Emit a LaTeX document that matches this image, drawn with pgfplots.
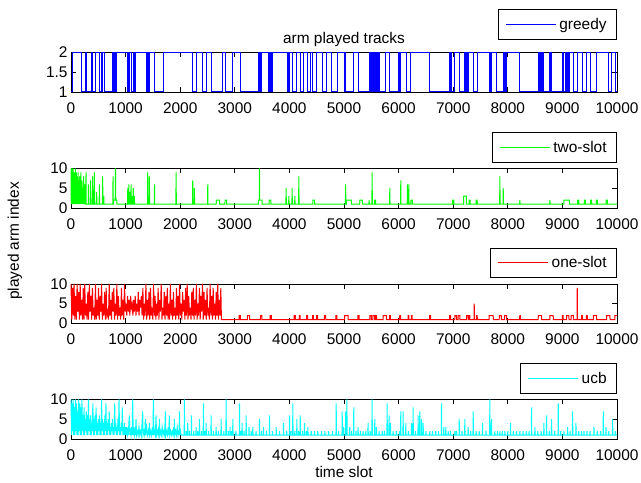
\documentclass[border=0pt]{standalone}
\usepackage{fontspec}
\setmainfont{Liberation Sans}
\usepackage{pgfplots}
\pgfplotsset{compat=1.18}

\definecolor{mblue}{RGB}{0,0,255}
\definecolor{mgreen}{RGB}{0,255,0}
\definecolor{mred}{RGB}{255,0,0}
\definecolor{mcyan}{RGB}{0,255,255}

\newcommand{\lblfont}{\fontsize{15.5}{18}\selectfont}

\pgfplotsset{
  track/.style={
    scale only axis, width=546bp, height=39.5bp,
    xmin=0, xmax=10000, xtick={0,1000,...,10000},
    scaled x ticks=false, scaled y ticks=false,
    /pgf/number format/1000 sep={},
    /pgf/number format/assume math mode=true,
    tick align=inside, xtick pos=both, ytick pos=both,
    major tick length=5bp,
    axis line style={line width=0.8bp, black},
    every tick/.style={black, line width=0.8bp},
    tick label style={font=\lblfont},
    xticklabel style={yshift=-7bp},
    clip=false,
    legend style={at={(1,1)}, anchor=south east, yshift=6bp,
      draw=black, line width=0.8bp, font=\lblfont,
      inner xsep=7bp, inner ysep=5.5bp,
      nodes={inner sep=3bp}},
    legend image code/.code={\draw[#1] (0bp,0bp) -- (50bp,0bp);},
    every axis plot/.append style={line width=1bp},
  }
}

\begin{document}
\begin{tikzpicture}
\useasboundingbox (0,0) rectangle (641bp,483bp);

\node[rotate=90, font=\lblfont] at (15bp,242bp) {played arm index};

% greedy
\begin{axis}[track, at={(71bp,391bp)}, anchor=south west,
  ymin=1, ymax=2, ytick={1,1.5,2},
  legend style={yshift=7bp},
  title={arm played tracks},
  title style={font=\lblfont, at={(0.5,1)}, anchor=south, yshift=-4bp}]
\addplot[mblue, const plot] coordinates {
(0,1)(30,2)(201,1)(263,2)(287,1)(367,2)(397,1)(446,2)(519,1)(550,2)(558,1)(566,2)(574,1)(580,2)(611,1)
(752,2)(760,1)(770,2)(778,1)(790,2)(800,1)(810,2)(818,1)(825,2)(1039,1)(1050,2)(1060,1)(1070,2)(1100,1)
(1143,2)(1152,1)(1160,2)(1170,1)(1180,2)(1387,1)(1395,2)(1405,1)(1415,2)(1424,1)(1436,2)(1528,1)(1699,2)
(2231,1)(2292,2)(2401,1)(2475,2)(2566,1)(2768,2)(2829,1)(2964,2)(3104,1)(3428,2)(3436,1)(3444,2)(3452,1)
(3462,2)(3472,1)(3483,2)(3623,1)(3632,2)(3642,1)(3652,2)(3662,1)(3672,2)(3684,1)(3697,2)(3972,1)(3980,2)
(3990,1)(4002,2)(4063,1)(4137,2)(4198,1)(4265,2)(4326,1)(4381,2)(4430,1)(4491,2)(4614,1)(4675,2)(4766,1)
(4876,2)(5000,1)(5008,2)(5016,1)(5024,2)(5032,1)(5166,2)(5258,1)(5472,2)(5490,1)(5500,2)(5510,1)(5520,2)
(5530,1)(5540,2)(5550,1)(5560,2)(5570,1)(5580,2)(5590,1)(5600,2)(5612,1)(5625,2)(5655,1)(5765,2)(5839,1)
(5991,2)(6000,1)(6010,2)(6020,1)(6034,2)(6144,1)(6223,2)(6572,1)(6926,2)(6940,1)(6955,2)(6969,1)(7030,2)
(7122,1)(7213,2)(7225,1)(7240,2)(7255,1)(7274,2)(7366,1)(7439,2)(7659,1)(7670,2)(7685,1)(7702,2)(7794,1)
(7916,2)(7925,1)(7935,2)(7945,1)(7955,2)(7965,1)(7977,2)(8209,1)(8570,2)(8585,1)(8600,2)(8615,1)(8632,2)
(8649,1)(8771,2)(8785,1)(8797,2)(8808,1)(9003,2)(9028,1)(9050,2)(9075,1)(9100,2)(9120,1)(9138,2)(9199,1)
(9272,2)(9370,1)(9443,2)(9517,1)(9627,2)(9841,1)(9902,2)(9981,1)(10000,1)};
\addlegendentry{greedy}
\end{axis}

% two-slot
\begin{axis}[track, at={(71bp,275bp)}, anchor=south west,
  ymin=0, ymax=10, ytick={0,5,10}]
\addplot[mgreen] coordinates {
(0,10)(5,1)(10,9)(15,1)(20,10)(25,2)(30,8)(35,1)(40,10)(45,1)(50,7)(55,1)(60,9)(65,3)(70,8)(75,1)(80,10)
(85,1)(90,6)(95,1)(100,9)(105,2)(110,8)(115,1)(120,5)(125,1)(130,9)(135,1)(140,7)(145,1)(150,4)(155,1)
(160,8)(165,1)(170,6)(175,1)(180,9)(185,1)(190,3)(195,1)(200,7)(205,1)(212,5)(218,1)(232,8)(238,1)(256,6)(262,1)
(272,1)(275,9)(278,1)(316,1)(320,6)(324,1)(356,1)(360,7)(364,1)(393,1)(397,8)(401,1)(424,1)(428,9)(432,1)
(466,1)(470,4)(474,1)(516,1)(520,6)(524,1)(576,1)(580,8)(584,1)(596,1)(600,3)(604,1)(766,1)(770,8)(774,1)
(780,1)(781,2)(810,2)(815,10)(820,2)(840,2)(841,1)
(1036,1)(1040,5)(1044,1)(1056,1)(1060,6)(1064,1)(1076,1)(1080,4)(1084,1)(1096,1)(1100,6)(1104,1)(1116,1)
(1120,3)(1124,1)(1136,1)(1140,5)(1144,1)(1156,1)(1160,3)(1164,1)
(1401,1)(1405,9)(1409,1)(1432,1)(1436,8)(1440,1)(1526,1)(1530,6)(1534,1)(1921,1)(1925,9)(1929,1)(2226,1)
(2230,7)(2234,1)(2256,1)(2260,5)(2264,1)(2501,1)(2505,6)(2509,1)
(2660,1)(2661,2)(2720,2)(2721,1)(2820,1)(2821,2)(2850,2)(2851,1)
(3430,1)(3431,2)(3448,2)(3452,10)(3456,2)(3500,2)(3501,1)(3630,1)(3631,2)(3660,2)(3661,1)
(3936,1)(3940,5)(3944,1)(3986,1)(3990,3)(3994,1)(4046,1)(4050,5)(4054,1)(4096,1)(4100,3)(4104,1)(4169,1)
(4173,8)(4177,1)(4430,1)(4431,2)(4460,2)(4461,1)
(5026,1)(5030,6)(5034,1)(5045,1)(5046,2)(5136,2)(5137,1)(5288,1)(5289,2)(5338,2)(5339,1)
(5456,1)(5460,2)(5464,1)(5511,1)(5515,9)(5519,1)(5560,1)(5561,2)(5580,2)(5581,1)
(5835,1)(5839,5)(5843,1)(6036,1)(6040,7)(6044,1)(6158,1)(6162,6)(6166,1)(6183,1)(6187,6)(6191,1)(6226,1)
(6227,2)(6250,2)(6251,1)
(6990,1)(6991,2)(7010,2)(7011,1)(7190,1)(7191,3)(7240,3)(7241,1)(7290,1)(7291,2)(7310,2)(7311,1)(7420,1)
(7421,2)(7440,2)(7441,1)
(7851,1)(7855,8)(7859,1)(7912,1)(7916,5)(7920,1)(8217,1)(8221,2)(8225,1)(8767,1)(8771,2)(8775,1)
(9028,1)(9029,2)(9126,2)(9127,1)(9280,1)(9281,2)(9300,2)(9301,1)(9400,1)(9401,2)(9420,2)(9421,1)(9515,1)
(9516,2)(9535,2)(9536,1)(9620,1)(9621,2)(9640,2)(9641,1)(9800,1)(9801,2)(9825,2)(9826,1)(10000,1)};
\addlegendentry{two-slot}
\end{axis}

% one-slot
\begin{axis}[track, at={(71bp,159.5bp)}, anchor=south west,
  ymin=0, ymax=10, ytick={0,5,10}]
\addplot[mred] coordinates {
(0,10)(14,1)(28,9)(42,2)(56,10)(70,1)(84,7)(98,1)(112,10)(126,3)(140,8)(154,1)(168,10)(182,2)(196,6)
(210,1)(224,9)(238,1)(252,10)(266,2)(280,5)(294,1)(308,8)(322,1)(336,10)(350,3)(364,7)(378,1)(392,9)
(406,2)(420,4)(434,1)(448,10)(462,1)(476,6)(490,2)(504,9)(518,1)(532,7)(546,3)(560,10)(574,1)(588,5)
(602,2)(616,8)(630,1)(644,9)(658,2)(672,3)(686,1)(700,10)(714,2)(728,6)(742,1)(756,8)(770,3)(784,9)
(798,1)(812,5)(826,2)(840,10)(854,1)(868,7)(882,2)(896,4)(910,1)(924,9)(938,2)(952,6)(966,1)(980,10)
(994,3)(1008,5)(1022,2)(1036,7)(1050,3)(1064,6)(1078,2)(1092,7)(1106,4)(1120,5)(1134,2)(1148,6)(1162,3)
(1176,7)(1190,2)(1204,5)(1218,3)(1232,8)(1246,2)(1260,6)(1274,4)(1288,7)(1302,2)(1316,9)(1330,1)(1344,5)
(1358,2)(1372,10)(1386,1)(1400,6)(1414,2)(1428,8)(1442,1)(1456,9)(1470,2)(1484,4)(1498,1)(1512,10)
(1526,2)(1540,7)(1554,1)(1568,5)(1582,2)(1596,9)(1610,1)(1624,6)(1638,3)(1652,10)(1666,1)(1680,4)
(1694,2)(1708,8)(1722,1)(1736,7)(1750,2)(1764,9)(1778,1)(1792,5)(1806,1)(1820,10)(1834,2)(1848,6)
(1862,1)(1876,8)(1890,2)(1904,4)(1918,1)(1932,9)(1946,2)(1960,7)(1974,1)(1988,10)(2002,2)(2016,5)
(2030,1)(2044,8)(2058,3)(2072,6)(2086,1)(2100,9)(2114,2)(2128,10)(2142,1)(2156,7)(2170,2)(2184,4)
(2198,1)(2212,8)(2226,2)(2240,9)(2254,1)(2268,6)(2282,2)(2296,10)(2310,1)(2324,5)(2338,2)(2352,9)
(2366,1)(2380,7)(2394,3)(2408,10)(2422,1)(2436,8)(2450,2)(2464,6)(2478,1)(2492,9)(2506,2)(2520,4)
(2534,1)(2548,10)(2562,2)(2576,7)(2590,1)(2604,9)(2618,2)(2632,5)(2646,1)(2660,8)(2674,2)(2688,10)
(2702,1)(2716,6)(2730,2)(2744,9)
(2755,1)(3080,1)(3081,2)(3100,2)(3101,1)(3230,1)(3231,2)(3270,2)(3271,1)(3470,1)(3471,2)(3495,2)(3496,1)
(3645,1)(3646,2)(3670,2)(3671,1)(4085,1)(4086,2)(4110,2)(4111,1)(4180,1)(4181,2)(4195,2)(4196,1)(4315,1)
(4316,2)(4335,2)(4336,1)(4425,1)(4426,2)(4440,2)(4441,1)(4498,1)(4499,2)(4515,2)(4516,1)(4640,1)(4641,2)
(4665,2)(4666,1)(4850,1)(4851,2)(4870,2)(4871,1)(5010,1)(5011,2)(5075,2)(5076,1)(5255,1)(5256,2)(5275,2)
(5276,1)(5472,1)(5473,2)(5500,2)(5501,1)(5530,1)(5531,2)(5560,2)(5561,1)(5575,1)(5576,2)(5595,2)(5596,1)
(5716,1)(5717,2)(5777,2)(5778,1)(5836,1)(5837,2)(5850,2)(5851,1)(6020,1)(6021,2)(6035,2)(6036,1)(6172,1)
(6173,2)(6188,2)(6189,1)(6232,1)(6233,2)(6248,2)(6249,1)(6568,1)(6569,2)(6585,2)(6586,1)(6935,1)(6936,2)
(6952,2)(6953,1)(7030,1)(7031,2)(7060,2)(7061,1)(7090,1)(7091,2)(7122,2)(7123,1)(7244,1)(7245,2)(7275,2)
(7276,1)(7290,1)(7291,2)(7305,2)(7306,1)(7381,1)(7385,5)(7389,1)(7425,1)(7426,2)(7440,2)(7441,1)(7659,1)
(7660,2)(7733,2)(7734,1)(7843,1)(7844,2)(7880,2)(7881,1)(7940,1)(7941,2)(7977,2)(7978,1)(8218,1)(8219,2)
(8230,2)(8231,1)(8557,1)(8558,2)(8618,2)(8619,1)(8771,1)(8772,2)(8832,2)(8833,1)(9000,1)(9001,2)(9012,2)
(9013,1)(9077,1)(9078,2)(9120,2)(9121,1)(9160,1)(9161,2)(9199,2)(9200,1)(9268,1)(9272,9)(9276,1)(9350,1)
(9351,2)(9365,2)(9366,1)(9440,1)(9441,2)(9455,2)(9456,1)(9566,1)(9567,2)(9627,2)(9628,1)(9810,1)(9811,2)
(9871,2)(9872,1)(9960,1)(9961,2)(10000,2)};
\addlegendentry{one-slot}
\end{axis}

% ucb
\begin{axis}[track, at={(71bp,44bp)}, anchor=south west,
  ymin=0, ymax=10, ytick={0,5,10},
  xlabel={time slot}, xlabel style={font=\lblfont, yshift=1bp}]
\addplot[mcyan] coordinates {
(0,10)(10,1)(20,9)(30,2)(40,10)(50,1)(60,8)(70,1)(80,10)(90,2)(100,9)(110,1)(120,7)(130,1)(140,10)(150,2)
(160,9)(170,1)(180,8)(190,1)(200,10)(210,2)(220,6)(230,1)(240,8)(250,1)(260,5)(270,2)(280,7)(290,1)(300,6)
(310,1)(320,10)(330,2)(340,5)(350,1)(360,6)(370,1)(380,4)(390,2)(400,9)(410,1)(420,5)(430,1)(440,6)(450,2)
(460,8)(470,1)(480,4)(490,1)(500,5)(510,2)(520,6)(530,1)(540,4)(550,1)(560,10)(570,2)(580,5)(590,1)(600,4)
(610,1)(620,6)(630,2)(640,9)(650,1)(660,4)(670,1)(680,5)(690,2)(700,7)(710,1)(720,3)(730,1)(740,4)(750,2)
(760,5)(770,1)(780,3)(790,1)(800,9)(810,2)(820,4)(830,1)(840,3)(850,1)(860,5)(870,2)(880,10)(890,1)(900,3)
(910,1)(920,4)(930,2)(940,8)(950,1)(960,3)(970,1)(980,4)(990,1)(1000,3)
(1010,1)(1020,3)(1030,1)(1040,2)(1050,1)(1060,4)(1069,6)(1078,1)(1090,2)(1100,1)(1110,3)(1120,1)(1130,10)
(1140,1)(1150,2)(1160,1)(1170,3)(1180,1)(1191,5)(1200,1)(1215,2)(1230,1)(1245,3)(1260,1)(1275,2)(1290,1)
(1313,7)(1320,1)(1335,2)(1350,1)(1362,5)(1370,1)(1385,3)(1400,1)(1415,2)(1425,1)(1436,4)(1445,1)(1460,2)
(1475,1)(1490,3)(1500,1)(1509,10)(1518,1)(1530,2)(1545,1)(1558,6)(1565,1)(1580,2)(1595,1)(1605,3)(1612,1)
(1619,5)(1626,1)(1640,2)(1655,1)(1670,3)(1685,1)(1700,2)(1715,1)(1729,7)(1736,1)(1750,2)(1765,1)(1780,3)
(1790,1)(1802,6)(1810,1)(1825,2)(1840,1)(1855,2)(1870,1)(1882,3)(1888,1)(1894,5)(1900,1)(1915,2)(1930,1)
(1945,3)(1960,1)(1975,2)(1980,1)(1986,7)(1992,1)(2005,2)(2015,1)
(2073,1)(2077,10)(2081,1)(2106,1)(2110,2)(2114,1)(2134,1)(2138,4)(2142,1)(2166,1)(2170,2)(2174,1)
(2202,1)(2206,6)(2210,1)(2246,1)(2250,2)(2254,1)(2287,1)(2291,3)(2295,1)(2316,1)(2320,2)(2324,1)
(2348,1)(2352,5)(2356,1)(2386,1)(2390,2)(2394,1)(2421,1)(2425,9)(2429,1)(2446,1)(2450,2)(2454,1)
(2471,1)(2475,4)(2479,1)(2516,1)(2520,2)(2524,1)(2562,1)(2566,6)(2570,1)(2606,1)(2610,2)(2614,1)
(2654,1)(2658,3)(2662,1)(2696,1)(2700,2)(2704,1)(2746,1)(2750,5)(2754,1)(2796,1)(2800,2)(2804,1)
(2837,1)(2841,10)(2845,1)(2876,1)(2880,2)(2884,1)(2910,1)(2914,3)(2918,1)(2936,1)(2940,2)(2944,1)
(2960,1)(2964,5)(2968,1)(3016,1)(3020,2)(3024,1)(3082,1)(3086,9)(3090,1)(3106,1)(3110,2)(3114,1)
(3130,1)(3134,4)(3138,1)(3166,1)(3170,2)(3174,1)(3204,1)(3208,6)(3212,1)(3256,1)(3260,3)(3264,1)
(3296,1)(3300,2)(3304,1)(3326,1)(3330,3)(3334,1)(3386,1)(3390,2)(3394,1)(3448,1)(3452,5)(3456,1)
(3486,1)(3490,2)(3494,1)(3521,1)(3525,3)(3529,1)(3576,1)(3580,2)(3584,1)(3631,1)(3635,6)(3639,1)
(3686,1)(3690,2)(3694,1)(3754,1)(3758,3)(3762,1)(3816,1)(3820,2)(3824,1)(3888,1)(3892,4)(3896,1)
(3946,1)(3950,2)(3954,1)(3998,1)(4002,6)(4006,1)(4026,1)(4030,2)(4034,1)(4059,1)(4063,9)(4067,1)
(4096,1)(4100,2)(4104,1)(4133,1)(4137,5)(4141,1)(4166,1)(4170,2)(4174,1)(4194,1)(4198,6)(4202,1)
(4236,1)(4240,2)(4244,1)(4273,1)(4277,4)(4281,1)(4306,1)(4310,2)(4314,1)(4334,1)(4338,3)(4342,1)
(4396,1)(4400,2)(4404,1)(4456,1)(4460,2)(4464,1)(4516,1)(4520,2)(4524,1)(4586,1)(4590,2)(4594,1)
(4646,1)(4650,2)(4654,1)(4716,1)(4720,2)(4724,1)(4786,1)(4790,2)(4794,1)(4853,1)(4857,9)(4861,1)
(4896,1)(4900,2)(4904,1)(4963,1)(4967,7)(4971,1)(4991,1)(4995,3)(4999,1)(5028,1)(5032,7)(5036,1)
(5049,1)(5053,10)(5057,1)(5101,1)(5105,3)(5109,1)(5136,1)(5140,2)(5144,1)(5175,1)(5179,8)(5183,1)
(5216,1)(5220,2)(5224,1)(5254,1)(5258,3)(5262,1)(5296,1)(5300,2)(5304,1)(5346,1)(5350,2)(5354,1)
(5396,1)(5400,2)(5404,1)(5437,1)(5441,4)(5445,1)(5476,1)(5480,2)(5484,1)(5511,1)(5515,10)(5519,1)
(5560,1)(5564,5)(5568,1)(5590,1)(5594,3)(5598,1)(5639,1)(5643,2)(5647,1)(5696,1)(5700,2)(5704,1)
(5736,1)(5740,2)(5744,1)(5786,1)(5790,9)(5794,1)(5822,1)(5826,6)(5830,1)(5847,1)(5851,4)(5855,1)
(5896,1)(5900,2)(5904,1)(5956,1)(5960,2)(5964,1)(6018,1)(6022,2)(6026,1)(6036,1)(6040,7)(6044,1)
(6079,1)(6083,7)(6087,1)(6128,1)(6132,4)(6136,1)(6176,1)(6180,2)(6184,1)(6232,1)(6236,4)(6240,1)
(6262,1)(6266,8)(6270,1)(6306,1)(6310,2)(6314,1)(6354,1)(6358,6)(6362,1)(6384,1)(6388,7)(6392,1)
(6415,1)(6419,5)(6423,1)(6446,1)(6450,4)(6454,1)(6496,1)(6500,2)(6504,1)(6568,1)(6572,2)(6576,1)
(6616,1)(6620,2)(6624,1)(6676,1)(6680,2)(6684,1)(6726,1)(6730,2)(6734,1)(6782,1)(6786,9)(6790,1)
(6824,1)(6828,3)(6832,1)(6861,1)(6865,3)(6869,1)(6904,1)(6908,2)(6912,1)(6946,1)(6950,2)(6954,1)
(7026,1)(7030,2)(7034,1)(7056,1)(7060,2)(7064,1)(7106,1)(7110,5)(7114,1)(7156,1)(7160,2)(7164,1)
(7209,1)(7213,5)(7217,1)(7270,1)(7274,3)(7278,1)(7316,1)(7320,2)(7324,1)(7362,1)(7366,7)(7370,1)
(7416,1)(7420,2)(7424,1)(7472,1)(7476,2)(7480,1)(7533,1)(7537,4)(7541,1)(7596,1)(7600,2)(7604,1)
(7667,1)(7671,10)(7675,1)(7698,1)(7702,5)(7706,1)(7759,1)(7763,2)(7767,1)(7806,1)(7810,2)(7814,1)
(7851,1)(7855,2)(7859,1)(7896,1)(7900,2)(7904,1)(7943,1)(7947,2)(7951,1)(7996,1)(8000,2)(8004,1)
(8046,1)(8050,4)(8054,1)(8096,1)(8100,2)(8104,1)(8156,1)(8160,2)(8164,1)(8217,1)(8221,2)(8225,1)
(8276,1)(8280,2)(8284,1)(8336,1)(8340,2)(8344,1)(8386,1)(8390,2)(8394,1)(8431,1)(8435,8)(8439,1)
(8492,1)(8496,3)(8500,1)(8546,1)(8550,2)(8554,1)(8606,1)(8610,2)(8614,1)(8657,1)(8661,4)(8665,1)
(8706,1)(8710,6)(8714,1)(8756,1)(8760,2)(8764,1)(8798,1)(8802,5)(8806,1)(8856,1)(8860,2)(8864,1)
(8920,1)(8924,9)(8928,1)(8966,1)(8970,2)(8974,1)(9024,1)(9028,2)(9032,1)(9091,1)(9095,3)(9099,1)
(9136,1)(9140,2)(9144,1)(9183,1)(9187,7)(9191,1)(9244,1)(9248,4)(9252,1)(9296,1)(9300,2)(9304,1)
(9346,1)(9350,2)(9354,1)(9391,1)(9395,2)(9399,1)(9446,1)(9450,2)(9454,1)(9501,1)(9505,2)(9509,1)
(9574,1)(9578,3)(9582,1)(9635,1)(9639,2)(9643,1)(9696,1)(9700,2)(9704,1)(9745,1)(9749,7)(9753,1)
(9794,1)(9798,3)(9802,1)(9846,1)(9850,2)(9854,1)(9916,1)(9920,5)(9924,1)(9965,1)(9969,2)(9973,1)
(10000,1)};
\addlegendentry{ucb}
\end{axis}
\end{tikzpicture}
\end{document}
